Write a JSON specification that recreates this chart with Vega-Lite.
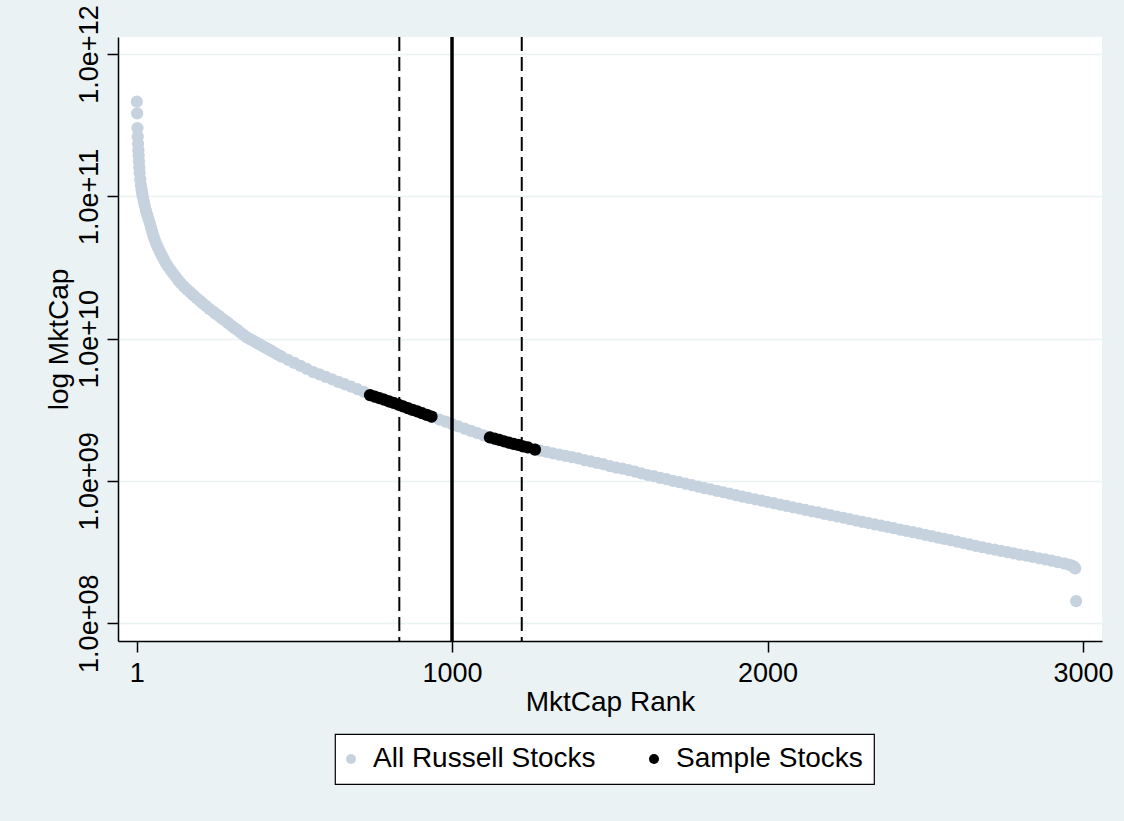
{
  "$schema": "https://vega.github.io/schema/vega-lite/v6.json",
  "width": 984,
  "height": 604,
  "autosize": {"type": "none"},
  "padding": {"left": 118, "top": 37, "right": 22, "bottom": 180},
  "background": "#EAF2F3",
  "config": {
    "font": "Liberation Sans",
    "view": {"fill": "white", "stroke": null},
    "axis": {
      "domainColor": "black",
      "domainWidth": 1.5,
      "tickColor": "black",
      "tickWidth": 1.5,
      "tickSize": 11,
      "labelColor": "black",
      "labelFontSize": 27,
      "labelFlush": false,
      "labelOverlap": false,
      "titleColor": "black",
      "titleFontSize": 28,
      "titleFontWeight": "normal"
    },
    "legend": {"strokeWidth": 1.2}
  },
  "datasets": {
    "russell": [
      {"rank": 1, "mktcap": 4.62e11}, {"rank": 2, "mktcap": 3.83e11}, {"rank": 3, "mktcap": 3.02e11},
      {"rank": 4, "mktcap": 2.63e11}, {"rank": 5, "mktcap": 2.34e11}, {"rank": 6, "mktcap": 2.11e11},
      {"rank": 7, "mktcap": 1.93e11}, {"rank": 8, "mktcap": 1.76e11}, {"rank": 9, "mktcap": 1.60e11},
      {"rank": 10, "mktcap": 1.46e11}, {"rank": 12, "mktcap": 1.32e11}, {"rank": 14, "mktcap": 1.20e11},
      {"rank": 16, "mktcap": 1.12e11}, {"rank": 18, "mktcap": 1.05e11}, {"rank": 20, "mktcap": 9.93e10},
      {"rank": 23, "mktcap": 9.23e10}, {"rank": 26, "mktcap": 8.61e10}, {"rank": 30, "mktcap": 7.94e10},
      {"rank": 34, "mktcap": 7.41e10}, {"rank": 38, "mktcap": 6.92e10}, {"rank": 42, "mktcap": 6.49e10},
      {"rank": 46, "mktcap": 6.03e10}, {"rank": 50, "mktcap": 5.62e10}, {"rank": 54, "mktcap": 5.25e10},
      {"rank": 58, "mktcap": 4.93e10}, {"rank": 63, "mktcap": 4.62e10}, {"rank": 68, "mktcap": 4.37e10},
      {"rank": 74, "mktcap": 4.09e10}, {"rank": 80, "mktcap": 3.85e10}, {"rank": 86, "mktcap": 3.63e10},
      {"rank": 93, "mktcap": 3.40e10}, {"rank": 100, "mktcap": 3.21e10}, {"rank": 108, "mktcap": 3.03e10},
      {"rank": 116, "mktcap": 2.87e10}, {"rank": 124, "mktcap": 2.72e10}, {"rank": 132, "mktcap": 2.58e10},
      {"rank": 140, "mktcap": 2.46e10}, {"rank": 150, "mktcap": 2.33e10}, {"rank": 160, "mktcap": 2.22e10},
      {"rank": 170, "mktcap": 2.12e10}, {"rank": 180, "mktcap": 2.02e10}, {"rank": 190, "mktcap": 1.93e10},
      {"rank": 200, "mktcap": 1.85e10}, {"rank": 210, "mktcap": 1.77e10}, {"rank": 220, "mktcap": 1.70e10},
      {"rank": 231, "mktcap": 1.62e10}, {"rank": 243, "mktcap": 1.55e10}, {"rank": 250, "mktcap": 1.50e10},
      {"rank": 260, "mktcap": 1.45e10}, {"rank": 270, "mktcap": 1.39e10}, {"rank": 280, "mktcap": 1.34e10},
      {"rank": 290, "mktcap": 1.29e10}, {"rank": 300, "mktcap": 1.24e10}, {"rank": 310, "mktcap": 1.19e10},
      {"rank": 320, "mktcap": 1.15e10}, {"rank": 330, "mktcap": 1.10e10}, {"rank": 340, "mktcap": 1.06e10},
      {"rank": 350, "mktcap": 1.02e10}, {"rank": 360, "mktcap": 9.93e9}, {"rank": 370, "mktcap": 9.66e9},
      {"rank": 380, "mktcap": 9.38e9}, {"rank": 390, "mktcap": 9.12e9}, {"rank": 400, "mktcap": 8.85e9},
      {"rank": 410, "mktcap": 8.61e9}, {"rank": 420, "mktcap": 8.36e9}, {"rank": 430, "mktcap": 8.13e9},
      {"rank": 440, "mktcap": 7.89e9}, {"rank": 450, "mktcap": 7.67e9},
      {"rank": 460, "mktcap": 7.46e9}, {"rank": 480, "mktcap": 7.10e9}, {"rank": 500, "mktcap": 6.76e9},
      {"rank": 520, "mktcap": 6.43e9}, {"rank": 540, "mktcap": 6.12e9}, {"rank": 560, "mktcap": 5.82e9},
      {"rank": 580, "mktcap": 5.60e9}, {"rank": 600, "mktcap": 5.38e9}, {"rank": 620, "mktcap": 5.18e9},
      {"rank": 640, "mktcap": 4.97e9}, {"rank": 660, "mktcap": 4.78e9}, {"rank": 680, "mktcap": 4.59e9},
      {"rank": 700, "mktcap": 4.41e9}, {"rank": 720, "mktcap": 4.23e9}, {"rank": 740, "mktcap": 4.03e9},
      {"rank": 760, "mktcap": 3.89e9}, {"rank": 780, "mktcap": 3.76e9}, {"rank": 800, "mktcap": 3.62e9},
      {"rank": 820, "mktcap": 3.50e9}, {"rank": 840, "mktcap": 3.37e9}, {"rank": 860, "mktcap": 3.25e9},
      {"rank": 880, "mktcap": 3.13e9}, {"rank": 900, "mktcap": 3.02e9}, {"rank": 920, "mktcap": 2.91e9},
      {"rank": 940, "mktcap": 2.81e9}, {"rank": 960, "mktcap": 2.70e9}, {"rank": 980, "mktcap": 2.61e9},
      {"rank": 1000, "mktcap": 2.51e9}, {"rank": 1020, "mktcap": 2.42e9}, {"rank": 1040, "mktcap": 2.33e9},
      {"rank": 1060, "mktcap": 2.25e9}, {"rank": 1080, "mktcap": 2.17e9}, {"rank": 1100, "mktcap": 2.09e9},
      {"rank": 1120, "mktcap": 2.02e9}, {"rank": 1140, "mktcap": 1.96e9}, {"rank": 1160, "mktcap": 1.91e9},
      {"rank": 1180, "mktcap": 1.86e9}, {"rank": 1200, "mktcap": 1.81e9}, {"rank": 1220, "mktcap": 1.76e9},
      {"rank": 1240, "mktcap": 1.72e9}, {"rank": 1260, "mktcap": 1.67e9}, {"rank": 1280, "mktcap": 1.63e9},
      {"rank": 1300, "mktcap": 1.60e9}, {"rank": 1320, "mktcap": 1.56e9}, {"rank": 1340, "mktcap": 1.53e9},
      {"rank": 1360, "mktcap": 1.50e9}, {"rank": 1380, "mktcap": 1.47e9}, {"rank": 1400, "mktcap": 1.44e9},
      {"rank": 1420, "mktcap": 1.40e9}, {"rank": 1440, "mktcap": 1.37e9}, {"rank": 1460, "mktcap": 1.34e9},
      {"rank": 1480, "mktcap": 1.31e9}, {"rank": 1500, "mktcap": 1.27e9}, {"rank": 1520, "mktcap": 1.24e9},
      {"rank": 1540, "mktcap": 1.22e9}, {"rank": 1560, "mktcap": 1.19e9}, {"rank": 1580, "mktcap": 1.16e9},
      {"rank": 1600, "mktcap": 1.13e9}, {"rank": 1620, "mktcap": 1.10e9}, {"rank": 1640, "mktcap": 1.08e9},
      {"rank": 1660, "mktcap": 1.05e9}, {"rank": 1680, "mktcap": 1.03e9}, {"rank": 1700, "mktcap": 1.00e9},
      {"rank": 1720, "mktcap": 9.79e8}, {"rank": 1740, "mktcap": 9.57e8}, {"rank": 1760, "mktcap": 9.33e8},
      {"rank": 1780, "mktcap": 9.12e8}, {"rank": 1800, "mktcap": 8.91e8}, {"rank": 1820, "mktcap": 8.71e8},
      {"rank": 1840, "mktcap": 8.51e8}, {"rank": 1860, "mktcap": 8.32e8}, {"rank": 1880, "mktcap": 8.13e8},
      {"rank": 1900, "mktcap": 7.94e8}, {"rank": 1920, "mktcap": 7.76e8}, {"rank": 1940, "mktcap": 7.59e8},
      {"rank": 1960, "mktcap": 7.43e8}, {"rank": 1980, "mktcap": 7.28e8}, {"rank": 2000, "mktcap": 7.11e8},
      {"rank": 2020, "mktcap": 6.97e8}, {"rank": 2040, "mktcap": 6.82e8}, {"rank": 2060, "mktcap": 6.67e8},
      {"rank": 2080, "mktcap": 6.53e8}, {"rank": 2100, "mktcap": 6.40e8}, {"rank": 2120, "mktcap": 6.25e8},
      {"rank": 2140, "mktcap": 6.12e8}, {"rank": 2160, "mktcap": 6.00e8}, {"rank": 2180, "mktcap": 5.86e8},
      {"rank": 2200, "mktcap": 5.74e8}, {"rank": 2220, "mktcap": 5.62e8}, {"rank": 2240, "mktcap": 5.51e8},
      {"rank": 2260, "mktcap": 5.38e8}, {"rank": 2280, "mktcap": 5.27e8}, {"rank": 2300, "mktcap": 5.16e8},
      {"rank": 2320, "mktcap": 5.06e8}, {"rank": 2340, "mktcap": 4.95e8}, {"rank": 2360, "mktcap": 4.85e8},
      {"rank": 2380, "mktcap": 4.75e8}, {"rank": 2400, "mktcap": 4.65e8}, {"rank": 2420, "mktcap": 4.55e8},
      {"rank": 2440, "mktcap": 4.46e8}, {"rank": 2460, "mktcap": 4.37e8}, {"rank": 2480, "mktcap": 4.28e8},
      {"rank": 2500, "mktcap": 4.18e8}, {"rank": 2520, "mktcap": 4.09e8}, {"rank": 2540, "mktcap": 4.00e8},
      {"rank": 2560, "mktcap": 3.91e8}, {"rank": 2580, "mktcap": 3.83e8}, {"rank": 2600, "mktcap": 3.74e8},
      {"rank": 2620, "mktcap": 3.66e8}, {"rank": 2640, "mktcap": 3.58e8}, {"rank": 2660, "mktcap": 3.50e8},
      {"rank": 2680, "mktcap": 3.43e8}, {"rank": 2700, "mktcap": 3.35e8}, {"rank": 2720, "mktcap": 3.29e8},
      {"rank": 2740, "mktcap": 3.22e8}, {"rank": 2760, "mktcap": 3.16e8}, {"rank": 2780, "mktcap": 3.10e8},
      {"rank": 2800, "mktcap": 3.03e8}, {"rank": 2820, "mktcap": 2.98e8}, {"rank": 2840, "mktcap": 2.92e8},
      {"rank": 2860, "mktcap": 2.86e8}, {"rank": 2880, "mktcap": 2.81e8}, {"rank": 2900, "mktcap": 2.75e8},
      {"rank": 2920, "mktcap": 2.69e8}, {"rank": 2940, "mktcap": 2.63e8}, {"rank": 2955, "mktcap": 2.58e8},
      {"rank": 2965, "mktcap": 2.54e8}, {"rank": 2972, "mktcap": 2.48e8}, {"rank": 2975, "mktcap": 2.43e8},
      {"rank": 2978, "mktcap": 1.43e8}
    ],
    "sample": [
      {"rank": 740, "mktcap": 4.01e9}, {"rank": 755, "mktcap": 3.91e9}, {"rank": 770, "mktcap": 3.82e9},
      {"rank": 785, "mktcap": 3.72e9}, {"rank": 800, "mktcap": 3.62e9}, {"rank": 815, "mktcap": 3.53e9},
      {"rank": 830, "mktcap": 3.44e9}, {"rank": 845, "mktcap": 3.34e9}, {"rank": 860, "mktcap": 3.25e9},
      {"rank": 875, "mktcap": 3.16e9}, {"rank": 890, "mktcap": 3.08e9}, {"rank": 905, "mktcap": 2.99e9},
      {"rank": 920, "mktcap": 2.91e9}, {"rank": 935, "mktcap": 2.83e9},
      {"rank": 1120, "mktcap": 2.02e9}, {"rank": 1135, "mktcap": 1.98e9}, {"rank": 1150, "mktcap": 1.94e9},
      {"rank": 1165, "mktcap": 1.90e9}, {"rank": 1180, "mktcap": 1.86e9}, {"rank": 1195, "mktcap": 1.82e9},
      {"rank": 1210, "mktcap": 1.79e9}, {"rank": 1225, "mktcap": 1.75e9}, {"rank": 1240, "mktcap": 1.72e9},
      {"rank": 1263, "mktcap": 1.66e9}
    ],
    "bandEdges": [{"rank": 833}, {"rank": 1221}],
    "cutoff": [{"rank": 1000}]
  },
  "encoding": {
    "x": {
      "field": "rank",
      "type": "quantitative",
      "scale": {"domain": [-58.6, 3060], "nice": false, "zero": false},
      "axis": {
        "title": "MktCap Rank",
        "values": [1, 1000, 2000, 3000],
        "format": "d",
        "grid": false,
        "labelPadding": 8,
        "titleY": 69,
        "titleBaseline": "alphabetic"
      }
    }
  },
  "layer": [
    {
      "data": {"name": "russell"},
      "mark": {"type": "circle", "size": 150, "opacity": 1},
      "encoding": {
        "y": {
          "field": "mktcap",
          "type": "quantitative",
          "scale": {"type": "log", "domain": [7.5e7, 1.317e12], "nice": false},
          "axis": {
            "title": "log MktCap",
            "values": [1e8, 1e9, 1e10, 1e11, 1e12],
            "labelExpr": "datum.value < 1e10 ? replace(format(datum.value, '.1e'), 'e+', 'e+0') : format(datum.value, '.1e')",
            "labelAngle": -90,
            "labelAlign": "center",
            "labelBaseline": "alphabetic",
            "labelPadding": 10,
            "grid": true,
            "gridColor": "#EAF2F3",
            "gridWidth": 1.5,
            "titleAngle": 270,
            "titleAlign": "center",
            "titleBaseline": "alphabetic",
            "titleX": -51,
            "titleY": 302
          }
        },
        "color": {
          "datum": "All Russell Stocks",
          "type": "nominal",
          "scale": {"domain": ["All Russell Stocks", "Sample Stocks"], "range": ["#C6D3DF", "#000000"]},
          "legend": {
            "title": null,
            "orient": "none",
            "legendX": 217,
            "legendY": 697,
            "direction": "horizontal",
            "fillColor": "white",
            "strokeColor": "black",
            "padding": 11,
            "symbolType": "circle",
            "symbolSize": 100,
            "symbolStrokeWidth": 0,
            "symbolOpacity": 1,
            "symbolOffset": -9,
            "labelFontSize": 28,
            "labelColor": "black",
            "labelOffset": 8,
            "labelLimit": 400,
            "columnPadding": 53
          }
        }
      }
    },
    {
      "data": {"name": "sample"},
      "mark": {"type": "circle", "size": 150, "opacity": 1},
      "encoding": {
        "y": {"field": "mktcap", "type": "quantitative"},
        "color": {"datum": "Sample Stocks", "type": "nominal"}
      }
    },
    {
      "data": {"name": "bandEdges"},
      "mark": {"type": "rule", "color": "black", "strokeWidth": 2, "strokeDash": [14, 6]},
      "encoding": {}
    },
    {
      "data": {"name": "cutoff"},
      "mark": {"type": "rule", "color": "black", "strokeWidth": 3.5},
      "encoding": {}
    }
  ]
}
